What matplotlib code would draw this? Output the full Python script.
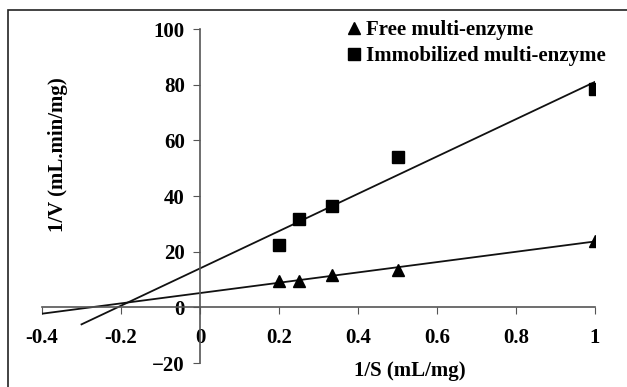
import numpy as np
import matplotlib.pyplot as plt
from matplotlib.patches import Rectangle

inv_s = [0.2, 0.25, 0.333, 0.5, 1.0]
free_inv_v = [9.5, 9.5, 11.5, 13.5, 24.0]
immob_inv_v = [22.3, 31.7, 36.5, 54.0, 78.5]

x_ticks = [-0.4, -0.2, 0, 0.2, 0.4, 0.6, 0.8, 1]
x_tick_labels = ["-0.4", "-0.2", "0", "0.2", "0.4", "0.6", "0.8", "1"]
y_ticks = [-20, 0, 20, 40, 60, 80, 100]

plt.rcParams['font.family'] = ['Liberation Serif', 'DejaVu Serif']
plt.rcParams['font.weight'] = 'bold'

fig = plt.figure(figsize=(6.27, 3.87), dpi=100)
ax = fig.add_axes([0.067, 0.062, 0.882, 0.863])

# trend lines (linear fit, extended backwards like the spreadsheet forecast)
k1, b1 = np.polyfit(inv_s, free_inv_v, 1)
k2, b2 = np.polyfit(inv_s, immob_inv_v, 1)
xf = np.array([-0.4, 1.0])
xi = np.array([-0.3, 1.0])
ax.plot(xf, k1 * xf + b1, color='#111111', lw=1.3, zorder=2)
ax.plot(xi, k2 * xi + b2, color='#111111', lw=1.3, zorder=2)

ax.plot(inv_s, free_inv_v, '^', color='black', ms=8.5, ls='none',
        label='Free multi-enzyme', zorder=3)
ax.plot(inv_s, immob_inv_v, 's', color='black', ms=8.5, ls='none',
        label='Immobilized multi-enzyme', zorder=3)

ax.set_xlim(-0.4, 1.0)
ax.set_ylim(-20, 100)
ax.spines['left'].set_position(('data', 0))
ax.spines['bottom'].set_position(('data', 0))
ax.spines['top'].set_visible(False)
ax.spines['right'].set_visible(False)
for s in ['left', 'bottom']:
    ax.spines[s].set_color('#555555')
    ax.spines[s].set_linewidth(1.2)

ax.set_xticks(x_ticks)
ax.set_xticklabels(x_tick_labels)
ax.set_yticks(y_ticks)
ax.tick_params(axis='x', direction='out', length=5, color='#555555',
               labelsize=15, pad=10)
ax.tick_params(axis='y', direction='out', length=5, color='#555555',
               labelsize=15, pad=6)

ax.text(0.53, -23, '1/S (mL/mg)', ha='center', va='center', fontsize=15,
        fontweight='bold', clip_on=False)
fig.text(0.093, 0.6, '1/V (mL.min/mg)', rotation=90, ha='center',
         va='center', fontsize=15, fontweight='bold')

ax.legend(loc='upper right', bbox_to_anchor=(0.966, 0.948),
          bbox_transform=fig.transFigure, frameon=False, fontsize=15,
          handletextpad=0.15, handlelength=0.8, labelspacing=0.3,
          borderpad=0, borderaxespad=0)

fig.add_artist(Rectangle((8 / 627, -0.1), 1.2, 1 - 10 / 387 + 0.1,
                         transform=fig.transFigure, fill=False,
                         edgecolor='#222222', lw=1.2))

fig.savefig('out.png', dpi=100)
